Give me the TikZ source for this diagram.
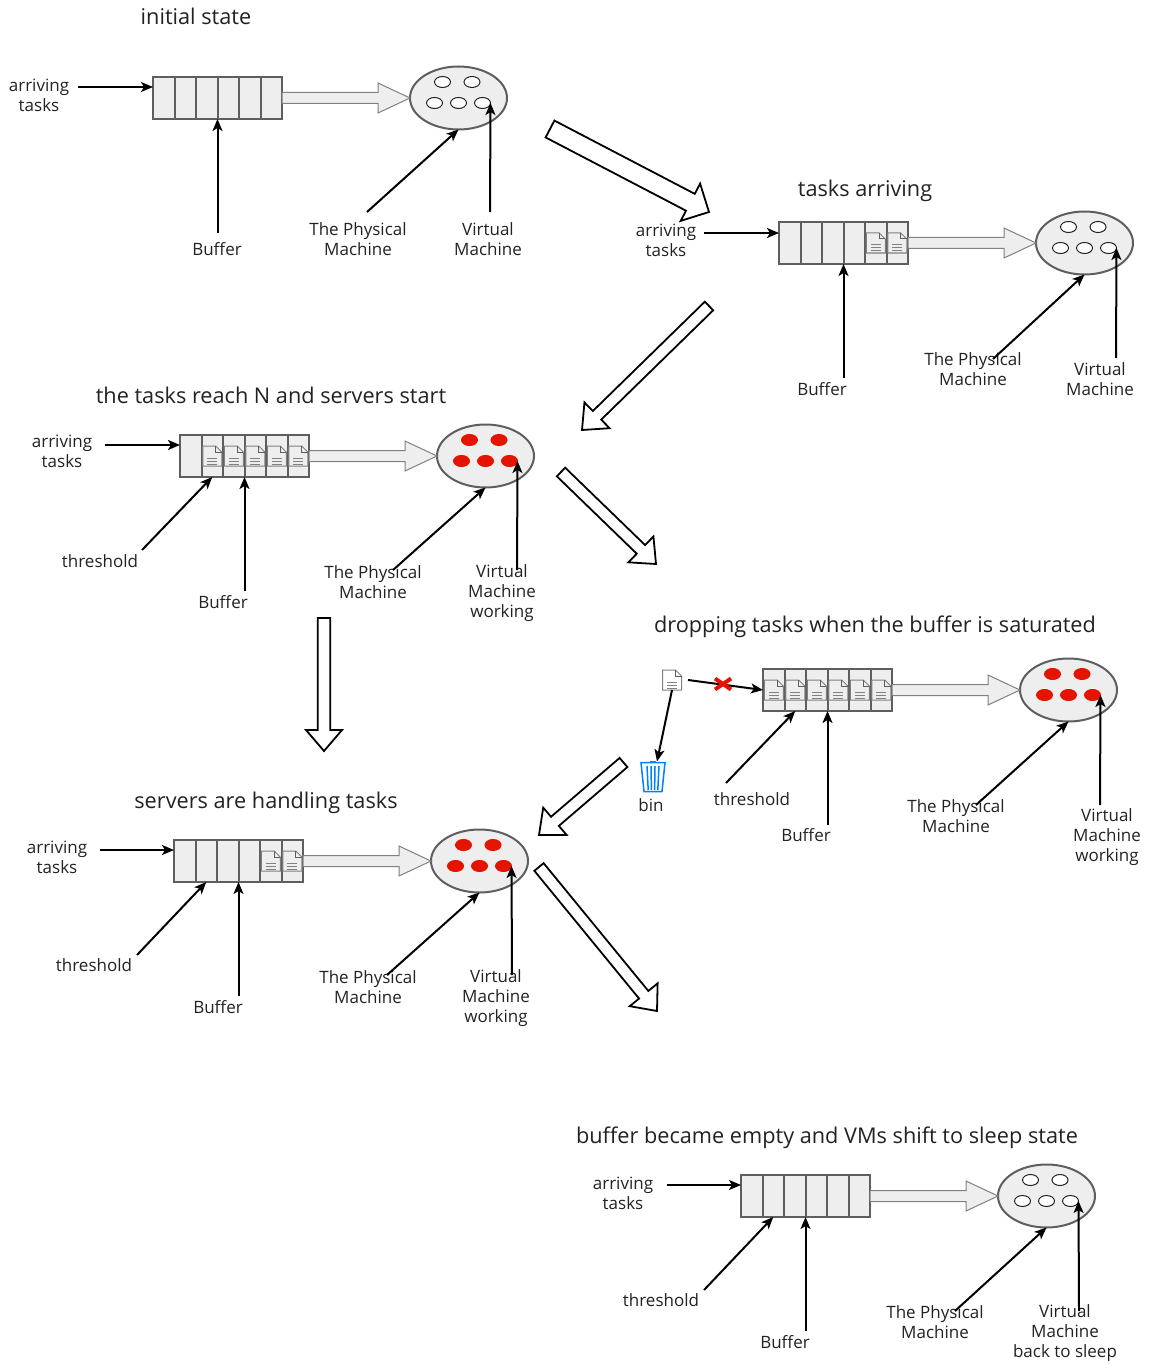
\documentclass[tikz,border=0pt]{standalone}
\usepackage{fontspec}
\usepackage{xcolor}
\usepackage{tikz}
\usetikzlibrary{shapes,arrows.meta,positioning,calc}
\setmainfont{Open Sans}

\definecolor{boxgray}{HTML}{EEEEEE}
\definecolor{linegray}{HTML}{5E5E5E}
\definecolor{vmred}{HTML}{E51400}
\definecolor{binblue}{HTML}{007FFF}
\definecolor{inkgray}{HTML}{222222}

\tikzset{
    cellbox/.style={draw=linegray, fill=boxgray, line width=2pt, minimum width=21.5pt, minimum height=42pt, inner sep=0pt, outer sep=0pt},
    pmbox/.style={ellipse, draw=linegray, fill=boxgray, line width=2pt, minimum width=97pt, minimum height=63pt, inner sep=0pt, outer sep=0pt},
    vmbox/.style={ellipse, draw=inkgray, fill=white, line width=1pt, minimum width=16pt, minimum height=11pt, inner sep=0pt, outer sep=0pt},
    vmbusy/.style={vmbox, draw=vmred, fill=vmred},
    lbl/.style={text=inkgray, align=center, inner sep=0pt, font=\fontsize{17}{20}\selectfont},
    ttl/.style={text=inkgray, inner sep=0pt, text height=16pt, text depth=5pt, font=\fontsize{21.7}{24}\selectfont},
    conn/.style={-{Stealth[length=12pt,width=10pt,inset=3pt]}, line width=2pt, black},
    stepflow/.style={draw=black, fill=white, line width=1.8pt},
    qflow/.style={draw=gray, fill=boxgray, line width=1pt}
}

% #1 style, #2 from, #3 to, #4 half shaft, #5 half head, #6 head length
\newcommand{\hollowarrow}[6]{
    \coordinate (neck) at ($(#3)!#6pt!(#2)$);
    \draw[#1] ($(#2)!#4pt!90:(#3)$) -- ($(neck)!#4pt!90:(#3)$) -- ($(neck)!#5pt!90:(#3)$) -- (#3)
        -- ($(neck)!#5pt!-90:(#3)$) -- ($(neck)!#4pt!-90:(#3)$) -- ($(#2)!#4pt!-90:(#3)$) -- cycle;
}

% one buffer and its machine: #1 name, #2 left edge, #3 middle line, #4 vm style
\newcommand{\machine}[4]{
    \foreach \i in {1,...,6}
        \node[cellbox] (#1c\i) at ({#2+(\i-0.5)*21.5},#3) {};
    \node[pmbox] (#1pm) at (#2+305.5,#3) {};
    \hollowarrow{qflow}{#1c6.east}{#1pm.west}{5.5}{15}{32}
    \node[#4] (#1v1) at (#2+289.5,#3-16) {};
    \node[#4] (#1v2) at (#2+319,#3-16) {};
    \node[#4] (#1v3) at (#2+281.5,#3+5) {};
    \node[#4] (#1v4) at (#2+305.5,#3+5) {};
    \node[#4] (#1v5) at (#2+329.5,#3+5) {};
}

% task page centred on a named point
\newcommand{\taskdoc}[2]{
    \draw[gray, fill=#2, line width=1pt] ($(#1)+(-9.5,-10)$) -- ++(13,0) -- ++(6,6) -- ++(0,14) -- ++(-19,0) -- cycle;
    \draw[linegray, line width=1pt] ($(#1)+(3.5,-10)$) -- ++(0,6) -- ++(6,0);
    \foreach \l in {2,5,8}
        \draw[gray, line width=1pt] ($(#1)+(-5,\l)$) -- ++(10,0);
}

\begin{document}
\begin{tikzpicture}[x=1pt, y=-1pt]
    \useasboundingbox (0,0) rectangle (1148,1364);

    % Initial state
    \node[ttl] (s1title) at (196,19) {initial state};
    \machine{s1}{153}{98}{vmbox}
    \node[lbl] (s1arr) at (39,95) {arriving\\tasks};
    \node[lbl] (s1buf) at (217,249) {Buffer};
    \node[lbl] (s1pml) at (358,239) {The Physical\\Machine};
    \node[lbl] (s1vml) at (488,239) {Virtual\\Machine};
    \coordinate (s1a) at (78,87);
    \coordinate (s1b) at (217.5,233);
    \coordinate (s1p) at (367,212);
    \coordinate (s1v) at (490,212);
    \draw[conn] (s1a) -- (s1a -| s1c1.west);
    \draw[conn] (s1b) -- (s1c3.south east);
    \draw[conn] (s1p) -- (s1pm.south);
    \draw[conn] (s1v) -- (s1v5.east);

    % Tasks arriving
    \node[ttl] (s2title) at (865,191) {tasks arriving};
    \machine{s2}{779}{243}{vmbox}
    \taskdoc{s2c5}{boxgray}
    \taskdoc{s2c6}{boxgray}
    \node[lbl] (s2arr) at (666,240) {arriving\\tasks};
    \node[lbl] (s2buf) at (822,389) {Buffer};
    \node[lbl] (s2pml) at (973,369) {The Physical\\Machine};
    \node[lbl] (s2vml) at (1100,379) {Virtual\\Machine};
    \coordinate (s2a) at (704,233);
    \coordinate (s2b) at (843.5,378);
    \coordinate (s2p) at (993,359);
    \coordinate (s2v) at (1116,358);
    \draw[conn] (s2a) -- (s2a -| s2c1.west);
    \draw[conn] (s2b) -- (s2c3.south east);
    \draw[conn] (s2p) -- (s2pm.south);
    \draw[conn] (s2v) -- (s2v5.east);

    % Threshold reached
    \node[ttl] (s3title) at (271,398) {the tasks reach N and servers start};
    \machine{s3}{180}{456}{vmbusy}
    \foreach \c in {2,...,6} {
        \taskdoc{s3c\c}{boxgray}
    }
    \node[lbl] (s3arr) at (62,451) {arriving\\tasks};
    \node[lbl] (s3thr) at (100,561) {threshold};
    \node[lbl] (s3buf) at (223,602) {Buffer};
    \node[lbl] (s3pml) at (373,582) {The Physical\\Machine};
    \node[lbl] (s3vml) at (502,593) {Virtual\\Machine\\working};
    \coordinate (s3a) at (105,445);
    \coordinate (s3t) at (142,550);
    \coordinate (s3b) at (244.5,591);
    \coordinate (s3p) at (393,570);
    \coordinate (s3v) at (517,570);
    \draw[conn] (s3a) -- (s3a -| s3c1.west);
    \draw[conn] (s3t) -- (s3c2.south);
    \draw[conn] (s3b) -- (s3c3.south east);
    \draw[conn] (s3p) -- (s3pm.south);
    \draw[conn] (s3v) -- (s3v5.east);

    % Saturated buffer
    \node[ttl] (s4title) at (875,627) {dropping tasks when the buffer is saturated};
    \machine{s4}{763}{690}{vmbusy}
    \foreach \c in {1,...,6} {
        \taskdoc{s4c\c}{boxgray}
    }
    \node[minimum width=20pt, minimum height=20pt, inner sep=0pt, outer sep=0pt] (s4doc) at (672,680) {};
    \taskdoc{s4doc}{white}
    \node[minimum width=24pt, minimum height=31pt, inner sep=0pt, outer sep=0pt] (s4bin) at (653,778) {};
    \draw[binblue, line width=1.5pt, fill=white] (s4bin.north west) -- (s4bin.north east) -- ++(-3,29) -- ++(-18,0) -- cycle;
    \draw[binblue, line width=2pt] ($(s4bin.north)+(-3,-1)$) -- ++(6,0);
    \foreach \k in {-6,-2,2,6}
        \draw[binblue, line width=1.5pt] ($(s4bin.center)+(\k,-12)$) -- ($(s4bin.center)+(0.8*\k,12)$);
    \node[lbl] (s4binl) at (651,805) {bin};
    \node[lbl] (s4thr) at (752,799) {threshold};
    \node[lbl] (s4buf) at (806,835) {Buffer};
    \node[lbl] (s4pml) at (956,816) {The Physical\\Machine};
    \node[lbl] (s4vml) at (1107,837) {Virtual\\Machine\\working};
    \coordinate (s4a) at (688,680);
    \coordinate (s4t) at (726,783);
    \coordinate (s4b) at (827.5,825);
    \coordinate (s4p) at (976,805);
    \coordinate (s4v) at (1100,805);
    \draw[conn] (s4a) -- (s4c1.west);
    \draw[conn] (s4doc.south) -- ($(s4bin.north)+(4,-1)$);
    \node[cross out, draw=vmred, line width=4pt, minimum width=12pt, minimum height=7pt, inner sep=0pt] (s4x) at (723,684) {};
    \draw[conn] (s4t) -- (s4c2.south);
    \draw[conn] (s4b) -- (s4c3.south east);
    \draw[conn] (s4p) -- (s4pm.south);
    \draw[conn] (s4v) -- (s4v5.east);

    % Handling tasks
    \node[ttl] (s5title) at (266,803) {servers are handling tasks};
    \machine{s5}{174}{861}{vmbusy}
    \taskdoc{s5c5}{boxgray}
    \taskdoc{s5c6}{boxgray}
    \node[lbl] (s5arr) at (57,857) {arriving\\tasks};
    \node[lbl] (s5thr) at (94,965) {threshold};
    \node[lbl] (s5buf) at (218,1007) {Buffer};
    \node[lbl] (s5pml) at (368,987) {The Physical\\Machine};
    \node[lbl] (s5vml) at (496,998) {Virtual\\Machine\\working};
    \coordinate (s5a) at (100,850);
    \coordinate (s5t) at (137,955);
    \coordinate (s5b) at (238.5,996);
    \coordinate (s5p) at (387,975);
    \coordinate (s5v) at (512,975);
    \draw[conn] (s5a) -- (s5a -| s5c1.west);
    \draw[conn] (s5t) -- (s5c2.south);
    \draw[conn] (s5b) -- (s5c3.south east);
    \draw[conn] (s5p) -- (s5pm.south);
    \draw[conn] (s5v) -- (s5v5.east);

    % Back to sleep
    \node[ttl] (s6title) at (827,1138) {buffer became empty and VMs shift to sleep state};
    \machine{s6}{741}{1196}{vmbox}
    \node[lbl] (s6arr) at (623,1193) {arriving\\tasks};
    \node[lbl] (s6thr) at (661,1300) {threshold};
    \node[lbl] (s6buf) at (785,1342) {Buffer};
    \node[lbl] (s6pml) at (935,1322) {The Physical\\Machine};
    \node[lbl] (s6vml) at (1065,1333) {Virtual\\Machine\\back to sleep};
    \coordinate (s6a) at (667,1185);
    \coordinate (s6t) at (704,1290);
    \coordinate (s6b) at (805.5,1331);
    \coordinate (s6p) at (955,1311);
    \coordinate (s6v) at (1079,1311);
    \draw[conn] (s6a) -- (s6a -| s6c1.west);
    \draw[conn] (s6t) -- (s6c2.south);
    \draw[conn] (s6b) -- (s6c3.south east);
    \draw[conn] (s6p) -- (s6pm.south);
    \draw[conn] (s6v) -- (s6v5.east);

    % Steps between the states
    \coordinate (f1a) at (550,129);
    \coordinate (f1b) at (709,212);
    \coordinate (f2a) at (709,306);
    \coordinate (f2b) at (582,430);
    \coordinate (f3a) at (561,472);
    \coordinate (f3b) at (656,564);
    \coordinate (f4a) at (324,618);
    \coordinate (f4b) at (324,751);
    \coordinate (f5a) at (623.5,762.5);
    \coordinate (f5b) at (539,835);
    \coordinate (f6a) at (539,867);
    \coordinate (f6b) at (657,1011);
    \hollowarrow{stepflow}{f1a}{f1b}{9.5}{21}{21}
    \hollowarrow{stepflow}{f2a}{f2b}{6}{18}{21}
    \hollowarrow{stepflow}{f3a}{f3b}{6}{18}{21}
    \hollowarrow{stepflow}{f4a}{f4b}{6.3}{18}{21}
    \hollowarrow{stepflow}{f5a}{f5b}{6}{18}{21}
    \hollowarrow{stepflow}{f6a}{f6b}{6}{18}{21}
\end{tikzpicture}
\end{document}
